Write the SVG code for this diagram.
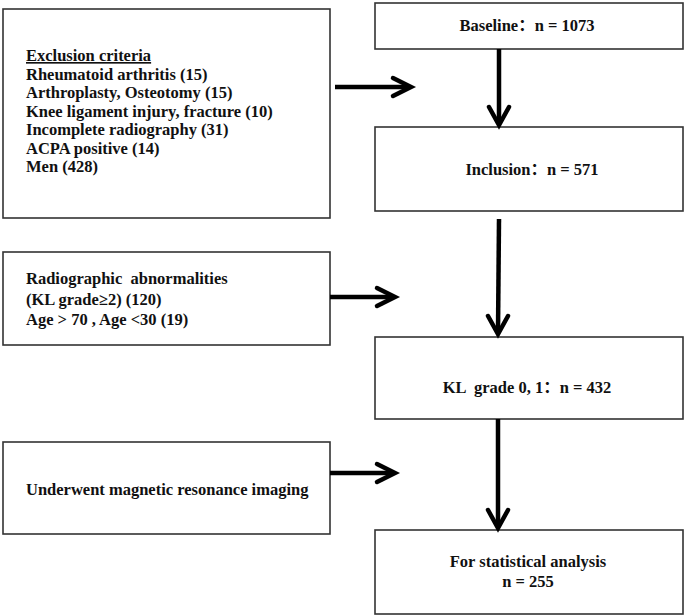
<svg xmlns="http://www.w3.org/2000/svg" width="685" height="616" viewBox="0 0 685 616">
<style>
.box{fill:#fff;stroke:#333;stroke-width:1.6}
.t{font-family:'Liberation Serif','Times New Roman','DejaVu Serif',serif;font-weight:bold;font-size:16.5px;fill:#111}
.cjk{font-family:'Noto Sans CJK SC',sans-serif;font-weight:bold}
.c{text-anchor:middle}
.line{stroke:#000;stroke-width:4.5;fill:none}
.head{stroke:#000;stroke-width:4.5;fill:none;stroke-linecap:round;stroke-linejoin:miter}
</style>
<rect width="685" height="616" fill="#fff"/>
<g id="exclusion">
<rect class="box" x="3" y="9" width="327" height="209"/>
<text class="t" x="26" y="61" text-decoration="underline">Exclusion criteria</text>
<text class="t" x="26" y="79.5">Rheumatoid arthritis (15)</text>
<text class="t" x="26" y="98">Arthroplasty, Osteotomy (15)</text>
<text class="t" x="26" y="116.5">Knee ligament injury, fracture (10)</text>
<text class="t" x="26" y="135">Incomplete radiography (31)</text>
<text class="t" x="26" y="153.5">ACPA positive (14)</text>
<text class="t" x="26" y="172">Men (428)</text>
</g>
<g id="baseline">
<rect class="box" x="375" y="3" width="308" height="46"/>
<text class="t c" x="527" y="31">Baseline<tspan class="cjk">：</tspan>n = 1073</text>
</g>
<g id="inclusion">
<rect class="box" x="375" y="127" width="308" height="84"/>
<text class="t c" x="532" y="175">Inclusion<tspan class="cjk">：</tspan>n = 571</text>
</g>
<g id="radiographic">
<rect class="box" x="3" y="252" width="327" height="93"/>
<text class="t" x="26" y="284" xml:space="preserve">Radiographic  abnormalities</text>
<text class="t" x="26" y="305">(KL grade≥2) (120)</text>
<text class="t" x="26" y="325">Age &gt; 70 , Age &lt;30 (19)</text>
</g>
<g id="klgrade">
<rect class="box" x="375" y="337" width="308" height="82"/>
<text class="t c" x="527" y="393" xml:space="preserve">KL  grade 0, 1<tspan class="cjk">：</tspan>n = 432</text>
</g>
<g id="mri">
<rect class="box" x="3" y="442" width="327" height="92"/>
<text class="t" x="26" y="495">Underwent magnetic resonance imaging</text>
</g>
<g id="final">
<rect class="box" x="375" y="530" width="308" height="84"/>
<text class="t c" x="528" y="567">For statistical analysis</text>
<text class="t c" x="528" y="587">n = 255</text>
</g>
<g id="connectors">
<line class="line" x1="335" y1="87" x2="410" y2="87"/>
<polyline class="head" points="393,78 411,87 393,96"/>
<line class="line" x1="499" y1="49" x2="499" y2="124"/>
<polyline class="head" points="489,107 499,125 509,107"/>
<line class="line" x1="499" y1="219" x2="498" y2="333"/>
<polyline class="head" points="488,316 498,334 508,316"/>
<line class="line" x1="330" y1="297" x2="394" y2="297"/>
<polyline class="head" points="377,288 395,297 377,306"/>
<line class="line" x1="498" y1="419" x2="498" y2="527"/>
<polyline class="head" points="488,510 498,528 508,510"/>
<line class="line" x1="330" y1="473" x2="394" y2="473"/>
<polyline class="head" points="377,464 395,473 377,482"/>
</g>
</svg>
